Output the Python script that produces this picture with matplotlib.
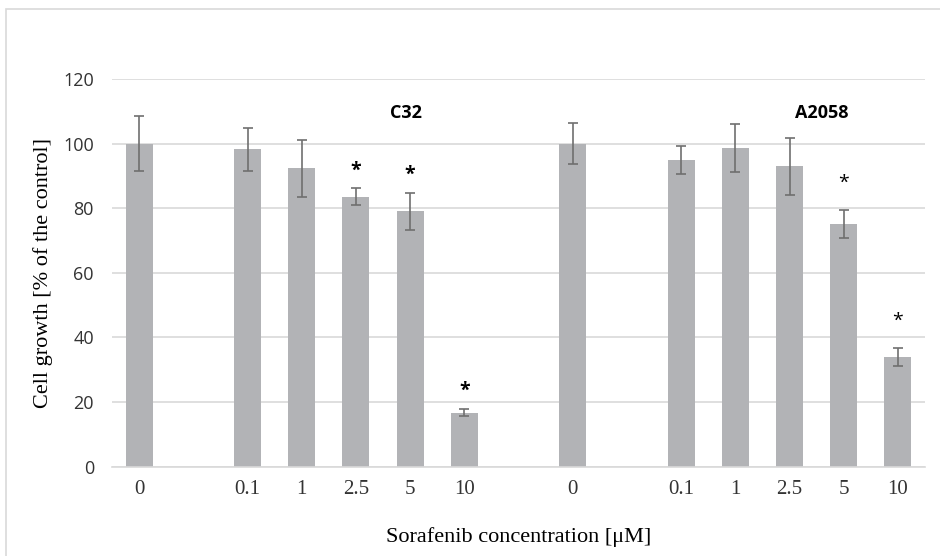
import numpy as np
import matplotlib
matplotlib.use("Agg")
import matplotlib.pyplot as plt
from matplotlib.patches import Rectangle

doses = ["0", "0.1", "1", "2.5", "5", "10"]
groups = ["C32", "A2058"]

c32_mean = [100.0, 98.2, 92.3, 83.6, 79.0, 16.7]
c32_err = [8.4, 6.6, 8.9, 2.6, 5.8, 1.2]
c32_sig = [False, False, False, True, True, True]

a2058_mean = [100.0, 94.9, 98.6, 93.0, 75.1, 33.8]
a2058_err = [6.4, 4.3, 7.4, 8.8, 4.3, 2.8]
a2058_sig = [False, False, False, False, True, True]

bar_color = "#b2b3b6"
err_color = "#6f6f6f"
grid_color = "#d9d9d9"
serif = ["Liberation Serif", "DejaVu Serif"]
sans = ["Open Sans", "DejaVu Sans"]

fig = plt.figure(figsize=(9.4, 5.56), dpi=100)
ax = fig.add_axes([112/940, 1 - 466.5/556, (925 - 112)/940, (466.5 - 79)/556])

# light frame round the figure, as in the source
fig.patches.append(Rectangle((6/940, -0.1), 1.2, 1.1 - 9/556, transform=fig.transFigure,
                             fill=False, edgecolor=grid_color, linewidth=1.2))

# control slot, one empty slot, then the five doses; one empty slot between groups
slots = [0, 2, 3, 4, 5, 6]
label_shift = [-0.07, -0.4]   # group titles sit a little left of the 5 uM bar
star_gap = [5.5, 8.5]
all_x, all_lab = [], []
for g, (name, mean, err, sig) in enumerate(zip(groups, [c32_mean, a2058_mean],
                                               [c32_err, a2058_err], [c32_sig, a2058_sig])):
    x = np.array(slots) + 8 * g
    ax.bar(x, mean, width=0.5, color=bar_color, zorder=2)
    ax.errorbar(x, mean, yerr=err, fmt="none", ecolor=err_color, elinewidth=1.2,
                capsize=3.8, capthick=1.2, zorder=3)
    for xi, m, e, s in zip(x, mean, err, sig):
        if s:
            ax.text(xi, m + e + star_gap[g], "*", ha="center", va="center", fontsize=14,
                    fontweight="bold" if g == 0 else "normal", family=sans)
    ax.text(x[4] + label_shift[g], 109.5, name, ha="center", va="center", fontsize=13,
            fontweight="bold", family=sans)
    all_x += list(x)
    all_lab += doses

ax.set_xlim(-0.5, 14.5)
ax.set_ylim(0, 120)
ax.set_yticks(np.arange(0, 121, 20))
ax.set_xticks(all_x)
ax.set_xticklabels(all_lab, family=serif, fontsize=15)
for t in ax.get_yticklabels():
    t.set_family(sans)
    t.set_fontsize(13)
ax.tick_params(axis="both", length=0, colors="#333333")
ax.tick_params(axis="x", pad=10)
ax.tick_params(axis="y", pad=13)

ax.grid(axis="y", color=grid_color, linewidth=1.2, zorder=0)
ax.set_axisbelow(True)
for s in ["top", "right", "left"]:
    ax.spines[s].set_visible(False)
ax.spines["bottom"].set_color(grid_color)
ax.spines["bottom"].set_linewidth(1.2)

ax.set_ylabel("Cell growth [% of the control]", family=serif, fontsize=16, labelpad=7)
ax.set_xlabel("Sorafenib concentration [\u03bcM]", family=serif, fontsize=16, labelpad=20)

fig.savefig("out.png", dpi=100)
